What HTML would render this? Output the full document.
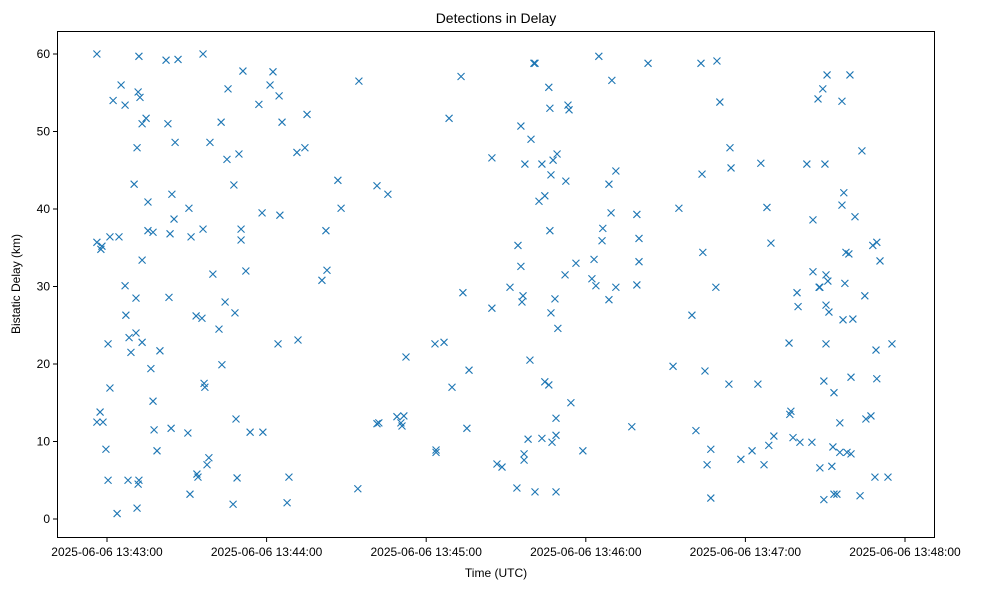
<!DOCTYPE html>
<html><head><meta charset="utf-8"><style>
body{margin:0;background:#fff}
svg{font-family:"Liberation Sans","DejaVu Sans",sans-serif}
</style></head><body>
<svg id="chart" width="986" height="590">
<rect x="0" y="0" width="986" height="590" fill="#fff"/>
<text x="496" y="23" text-anchor="middle" font-size="14">Detections in Delay</text>
<text x="496" y="577" text-anchor="middle" font-size="12">Time (UTC)</text>
<text x="20" y="284" text-anchor="middle" font-size="12" transform="rotate(-90 20 284)">Bistatic Delay (km)</text>
<g id="marks"></g>
<g id="axes"></g>
<rect x="57.5" y="31.5" width="877" height="506" fill="none" stroke="#000" stroke-width="1"/>
</svg>
<script>
const secs=[-3.8,-3.8,-3.8,-2.6,-1.9,-2.3,-1.5,-0.4,0.4,0.4,1.1,1.1,2.3,3.8,4.5,5.3,6.8,6.8,7.1,7.9,8.3,9.0,10.2,10.9,10.9,11.3,11.3,11.7,11.7,12.0,12.0,12.4,13.2,13.2,13.2,14.7,15.4,15.4,16.5,17.3,17.3,17.7,18.8,19.9,22.2,22.9,23.3,23.7,24.1,24.4,25.2,25.6,26.7,30.4,30.8,31.2,31.6,33.5,33.8,34.2,35.7,36.1,36.1,36.5,36.8,37.6,38.3,38.7,39.8,42.1,42.9,43.2,44.4,45.1,45.5,47.4,47.7,48.1,48.5,48.9,49.6,50.4,50.4,51.1,52.2,53.8,57.1,58.6,58.3,61.3,62.4,64.7,65.0,64.3,65.8,67.7,68.4,71.4,71.8,74.4,75.2,80.8,82.3,82.7,86.8,88.0,94.7,94.3,101.5,101.5,102.2,105.6,109.0,110.5,110.9,111.6,112.4,123.3,123.7,123.7,126.7,128.6,129.7,133.1,133.8,135.3,136.1,144.7,144.7,146.6,148.5,151.5,154.1,154.5,155.6,155.6,156.0,156.4,156.8,156.8,157.1,158.3,159.0,159.4,160.5,160.9,160.9,162.4,163.5,163.5,164.6,164.6,166.1,166.1,166.5,166.5,166.9,167.7,166.9,167.3,168.4,168.8,168.8,169.2,168.8,169.5,172.2,172.5,173.3,173.7,174.4,176.3,178.9,182.3,183.1,183.8,184.9,186.1,186.4,188.7,188.7,189.5,189.8,191.3,191.3,197.3,199.2,199.2,200.0,200.0,203.4,212.8,215.0,219.9,221.4,223.3,223.7,224.0,224.8,225.6,227.0,227.0,228.9,229.3,230.4,233.8,234.2,234.6,238.3,242.5,244.7,245.8,247.0,248.1,248.8,249.6,250.7,256.4,256.7,257.1,257.9,259.4,259.8,260.5,263.1,265.0,265.4,265.4,267.3,267.7,268.0,268.0,269.1,269.9,269.5,269.5,270.3,270.3,270.3,270.7,271.0,271.4,272.5,272.9,273.3,273.3,274.4,275.5,275.5,276.3,276.3,276.7,277.0,277.4,277.8,278.2,278.9,279.3,279.7,279.7,280.4,281.2,283.1,283.8,284.9,285.3,287.2,287.9,288.7,289.1,289.4,289.4,290.6,293.6,295.1];
const delays=[60.0,35.7,12.5,13.8,35.2,34.8,12.5,9.0,22.6,5.0,16.9,36.4,54.0,0.7,36.4,56.0,53.4,30.1,26.3,5.0,23.4,21.5,43.2,24.0,28.5,1.4,47.9,55.1,4.5,5.0,59.7,54.4,51.0,33.4,22.8,51.7,40.9,37.2,19.4,37.0,15.2,11.5,8.8,21.7,59.2,51.0,28.6,36.8,11.7,41.9,38.7,48.6,59.3,11.1,40.1,3.2,36.4,26.2,5.8,5.4,25.9,60.0,37.4,17.5,17.0,7.0,7.9,48.6,31.6,24.5,51.2,19.9,28.0,46.4,55.5,1.9,43.1,26.6,12.9,5.3,47.1,37.4,36.0,57.8,32.0,11.2,53.5,11.2,39.5,56.0,57.7,54.6,39.2,22.6,51.2,2.1,5.4,47.3,23.1,47.9,52.2,30.8,37.2,32.1,43.7,40.1,56.5,3.9,43.0,12.3,12.4,41.9,13.2,12.4,12.0,13.3,20.9,22.6,8.9,8.6,22.8,51.7,17.0,57.1,29.2,11.7,19.2,46.6,27.2,7.1,6.7,29.9,4.0,35.3,50.7,32.6,28.0,28.8,8.4,7.6,45.8,10.3,20.5,49.0,58.8,58.8,3.5,41.0,10.4,45.8,41.7,17.7,55.7,17.3,53.0,37.2,44.4,46.3,26.6,9.9,28.4,10.8,13.0,47.1,3.5,24.6,31.5,43.6,53.4,52.8,15.0,33.0,8.8,31.0,33.5,30.1,59.7,35.9,37.5,43.2,28.3,39.5,56.6,29.9,44.9,11.9,39.3,30.2,36.2,33.2,58.8,19.7,40.1,26.3,11.4,58.8,44.5,34.4,19.1,7.0,9.0,2.7,29.9,59.1,53.8,17.4,47.9,45.3,7.7,8.8,17.4,45.9,7.0,40.2,9.5,35.6,10.7,22.7,13.5,13.9,10.5,29.2,27.4,9.9,45.8,9.9,31.9,38.6,54.2,29.9,6.6,29.9,55.5,45.8,17.8,2.5,31.5,27.6,22.6,57.3,30.7,26.7,6.8,9.3,16.3,3.2,3.2,12.4,8.6,53.9,40.5,25.7,42.1,30.4,34.4,8.6,34.2,57.3,18.3,8.4,25.8,39.0,3.0,47.5,28.8,12.9,13.3,35.3,5.4,21.8,18.1,35.7,33.3,5.4,22.6];
const yTicks=[0,10,20,30,40,50,60];
const xTickSecs=[0,60,120,180,240,300];
const xTickLabels=["2025-06-06 13:43:00","2025-06-06 13:44:00","2025-06-06 13:45:00","2025-06-06 13:46:00","2025-06-06 13:47:00","2025-06-06 13:48:00"];

const NS="http://www.w3.org/2000/svg";
function xScale(s){return 107+s*(798/300);}
function yScale(v){return 519-v*(465/60);}
const marks=document.getElementById('marks');
for(let i=0;i<secs.length;i++){
  const cx=xScale(secs[i]), cy=yScale(delays[i]), r=3.5;
  const p=document.createElementNS(NS,'path');
  p.setAttribute('d',`M${cx-r},${cy-r}L${cx+r},${cy+r}M${cx-r},${cy+r}L${cx+r},${cy-r}`);
  p.setAttribute('stroke','#1f77b4');p.setAttribute('stroke-width','1.1');p.setAttribute('fill','none');
  
  
  marks.appendChild(p);
}
const axes=document.getElementById('axes');
yTicks.forEach(v=>{
  const y=yScale(v);
  const l=document.createElementNS(NS,'line');
  l.setAttribute('x1',53);l.setAttribute('x2',57.5);l.setAttribute('y1',y);l.setAttribute('y2',y);l.setAttribute('stroke','#000');
  
  
  axes.appendChild(l);
  const t=document.createElementNS(NS,'text');
  t.setAttribute('x',50);t.setAttribute('y',y+4);t.setAttribute('text-anchor','end');t.setAttribute('font-size','12');
  t.textContent=v;
  
  
  axes.appendChild(t);
});
xTickSecs.forEach((s,i)=>{
  const x=xScale(s);
  const l=document.createElementNS(NS,'line');
  l.setAttribute('x1',x);l.setAttribute('x2',x);l.setAttribute('y1',537.5);l.setAttribute('y2',542);l.setAttribute('stroke','#000');
  
  
  axes.appendChild(l);
  const t=document.createElementNS(NS,'text');
  t.setAttribute('x',x);t.setAttribute('y',556);t.setAttribute('text-anchor','middle');t.setAttribute('font-size','12');
  t.textContent=xTickLabels[i];
  
  
  axes.appendChild(t);
});
</script>
</body></html>
